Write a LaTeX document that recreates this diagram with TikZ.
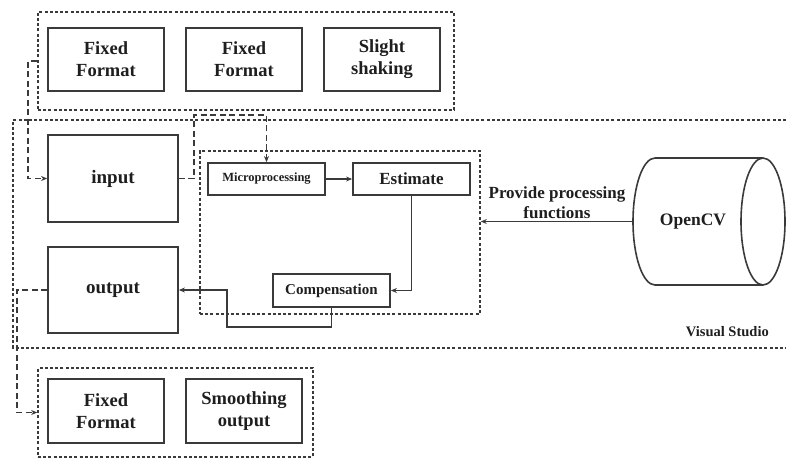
\documentclass[tikz,border=0pt]{standalone}
\usepackage{fontspec}
\setmainfont{Liberation Serif}
\usetikzlibrary{arrows.meta,calc}
\definecolor{ln}{HTML}{3A3A3A}
\definecolor{tx}{HTML}{1E1E1E}
\tikzset{
  box/.style={draw=ln, line width=1.8pt, rectangle, inner sep=0pt, align=center, text=tx, font=\bfseries\fontsize{18.5}{22}\selectfont},
  grp/.style={draw=ln, line width=1.6pt, rectangle, inner sep=0pt, dash pattern=on 3pt off 2.2pt},
  dconn/.style={draw=ln, line width=1.5pt, dash pattern=on 6pt off 3.5pt},
  sconn/.style={draw=ln, line width=1.5pt},
  arr/.style={-{Stealth[length=6pt,width=5pt]}},
  lbl/.style={text=tx, align=center, inner sep=0pt}
}
\begin{document}
\begin{tikzpicture}[x=1pt,y=-1pt]
\useasboundingbox (0,0) rectangle (786,459);
% top group
\node[grp, minimum width=416pt, minimum height=98pt] (g1) at (246,61) {};
\node[box, minimum width=116pt, minimum height=63pt] (f1) at (106,59.5) {Fixed\\Format};
\node[box, minimum width=116pt, minimum height=63pt] (f2) at (244,59.5) {Fixed\\Format};
\node[box, minimum width=116pt, minimum height=63pt] (f3) at (382,59.5) {Slight\\shaking};
% Visual Studio frame
\draw[grp] (786,120) -- (13,120) -- (13,348) -- (786,348);
\node[lbl, font=\bfseries\fontsize{14.5}{17}\selectfont, anchor=east] (vs) at (769,332) {Visual Studio};
% input / output
\node[box, font=\bfseries\fontsize{19}{22}\selectfont, minimum width=130pt, minimum height=87pt] (input) at (113,178.5) {input};
\node[box, font=\bfseries\fontsize{19}{22}\selectfont, minimum width=130pt, minimum height=86pt] (output) at (113,290) {output};
% inner processing frame
\node[grp, minimum width=280pt, minimum height=163pt] (inner) at (340,232.5) {};
\node[box, font=\bfseries\fontsize{12.5}{14}\selectfont, minimum width=117pt, minimum height=32pt] (micro) at (266.5,179) {Microprocessing};
\node[box, font=\bfseries\fontsize{17}{20}\selectfont, minimum width=117pt, minimum height=32pt] (est) at (411.5,179) {Estimate};
\node[box, font=\bfseries\fontsize{15}{18}\selectfont, minimum width=117pt, minimum height=33pt] (comp) at (331.5,290.5) {Compensation};
% OpenCV cylinder
\draw[ln, line width=1.6pt] (655,158) -- (763,158) (655,285) -- (763,285);
\draw[ln, line width=1.6pt] (763,221.5) ellipse [x radius=22pt, y radius=63.5pt];
\begin{scope}
\clip (600,150) rectangle (655,295);
\draw[ln, line width=1.6pt] (655,221.5) ellipse [x radius=22pt, y radius=63.5pt];
\end{scope}
\node[lbl, font=\bfseries\fontsize{17.5}{20}\selectfont] (cv) at (693,221.5) {OpenCV};
\coordinate (cylw) at (633,221.5);
\node[lbl, font=\bfseries\fontsize{17}{20}\selectfont] (prov) at (557,203) {Provide processing\\functions};
% bottom group
\node[grp, minimum width=275pt, minimum height=89pt] (g2) at (175.5,412.5) {};
\node[box, minimum width=116pt, minimum height=64pt] (f4) at (106,411) {Fixed\\Format};
\node[box, minimum width=116pt, minimum height=64pt] (f5) at (244,411) {Smoothing\\output};
% connectors
\draw[dconn, arr] (g1.west) -- ++(-9,0) |- (input.west);
\draw[dconn, arr] (input.east) -- ++(15,0) -- ++(0,-63.5) -| (micro.north);
\draw[sconn, arr] (micro.east) -- (est.west);
\draw[sconn, arr] (est.south) |- (comp.east);
\draw[sconn, arr] (comp.south) |- (227,327) |- (output.east);
\draw[dconn, arr] (output.west) -- (17,290) |- (g2.west);
\draw[sconn, arr] (cylw) -- (cylw -| inner.east);
\end{tikzpicture}
\end{document}
